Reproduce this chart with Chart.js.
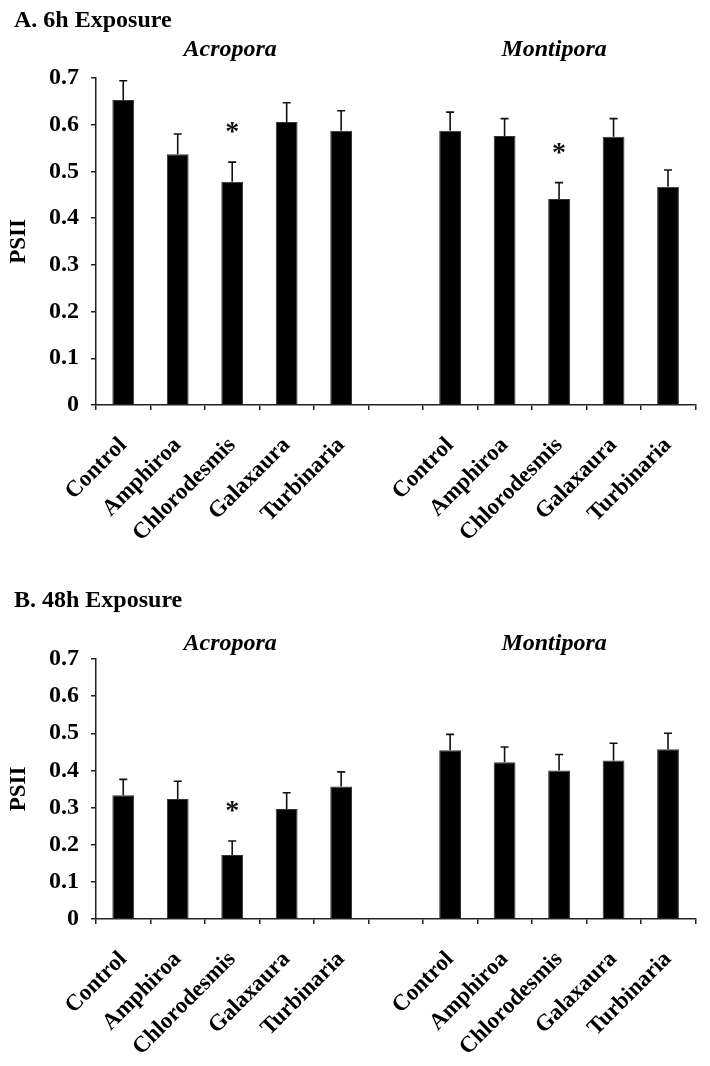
<!DOCTYPE html>
<html>
<head>
<meta charset="utf-8">
<script src="https://cdn.jsdelivr.net/npm/chart.js@4.4.0/dist/chart.umd.min.js"></script>
<style>
  body{margin:0;background:#fff;width:710px;height:1066px;overflow:hidden;}
  .panel{position:absolute;left:0;width:710px;}
</style>
</head>
<body>
<div class="panel" style="top:0;height:565px"><canvas id="graficaA"></canvas></div>
<div class="panel" style="top:580px;height:486px"><canvas id="graficaB"></canvas></div>
<script>
// categorias (hueco vacio entre los dos corales)
const categorias = ["Control","Amphiroa","Chlorodesmis","Galaxaura","Turbinaria","","Control","Amphiroa","Chlorodesmis","Galaxaura","Turbinaria"];
const grupos = ["Acropora","Montipora"];
const ticksY = [0,0.1,0.2,0.3,0.4,0.5,0.6,0.7];

// A. 6h
const psii6h   = [0.653,0.537,0.478,0.606,0.587,null,0.587,0.576,0.441,0.574,0.467];
const error6h  = [0.041,0.043,0.042,0.041,0.043,null,0.040,0.037,0.035,0.039,0.036];
const signif6h = [false,false,true,false,false,false,false,false,true,false,false];

// B. 48h
const psii48h   = [0.333,0.323,0.172,0.296,0.357,null,0.454,0.422,0.400,0.427,0.457];
const error48h  = [0.043,0.048,0.038,0.044,0.039,null,0.043,0.041,0.043,0.046,0.043];
const signif48h = [false,false,true,false,false,false,false,false,false,false,false];

const fuente = "'Liberation Serif', 'Times New Roman', serif";

function crearGrafica(id, valores, errores, signif, titulo, alto, altoEjeX, tituloY, gruposY){
    const ctx = document.getElementById(id).getContext("2d");

    // barras de error, asteriscos y textos
    const extras = {
        id: "extras",
        afterDatasetsDraw(chart){
            const c = chart.ctx;
            const meta = chart.getDatasetMeta(0);
            const y = chart.scales.y;
            c.save();
            c.strokeStyle = "#111";
            c.lineWidth = 1.6;
            valores.forEach((v, i) => {
                if(v === null) return;
                const x = meta.data[i].x;
                const yBar = y.getPixelForValue(v);
                const yErr = y.getPixelForValue(v + errores[i]);
                c.beginPath();
                c.moveTo(x, yBar);
                c.lineTo(x, yErr);
                c.moveTo(x - 4, yErr);
                c.lineTo(x + 4, yErr);
                c.stroke();
                if(signif[i]){
                    c.fillStyle = "#111";
                    c.font = "bold 28px " + fuente;
                    c.textAlign = "center";
                    c.textBaseline = "alphabetic";
                    c.fillText("*", x, yErr - 22);
                }
            });
            // nombres de los corales
            c.fillStyle = "#000";
            c.font = "italic bold 24px " + fuente;
            c.textAlign = "center";
            c.textBaseline = "middle";
            c.fillText(grupos[0], (meta.data[0].x + meta.data[4].x) / 2 - 2, gruposY);
            c.fillText(grupos[1], (meta.data[6].x + meta.data[10].x) / 2 - 5, gruposY);
            // titulo del panel
            c.font = "bold 24px " + fuente;
            c.textAlign = "left";
            c.fillText(titulo, 14, tituloY);
            c.restore();
        }
    };

    return new Chart(ctx, {
        type: "bar",
        data: {
            labels: categorias,
            datasets: [{
                label: "PSII",
                data: valores,
                backgroundColor: "#000",
                borderColor: "#333",
                borderWidth: 1,
                categoryPercentage: 1,
                barPercentage: 0.4
            }]
        },
        options: {
            responsive: true,
            maintainAspectRatio: false,
            animation: false,
            layout: { padding: { top: alto, right: 10, bottom: 0, left: 0 } },
            plugins: { legend: { display: false }, tooltip: { enabled: false } },
            scales: {
                x: {
                    afterFit: (s) => { s.height = altoEjeX; },
                    grid: { offset: true, drawOnChartArea: false, drawTicks: true, tickLength: 5, color: "#222", lineWidth: 1.5 },
                    border: { display: true, color: "#222", width: 1.5 },
                    ticks: {
                        autoSkip: false,
                        maxRotation: 45,
                        minRotation: 45,
                        padding: 22,
                        color: "#000",
                        font: { family: fuente, size: 23, weight: "bold" }
                    }
                },
                y: {
                    min: 0,
                    max: ticksY[ticksY.length - 1],
                    afterFit: (s) => { s.width = 96; },
                    afterBuildTicks: (s) => { s.ticks = ticksY.map(v => ({ value: v })); },
                    grid: { drawOnChartArea: false, drawTicks: true, tickLength: 5, color: "#222", lineWidth: 1.5 },
                    border: { display: true, color: "#222", width: 1.5 },
                    title: {
                        display: true,
                        text: "PSII",
                        color: "#000",
                        font: { family: fuente, size: 23, weight: "bold" },
                        padding: { top: 5, bottom: 0 }
                    },
                    ticks: {
                        padding: 12,
                        color: "#000",
                        font: { family: fuente, size: 24, weight: "bold" },
                        callback: (v) => v === 0 ? "0" : Number(v).toFixed(1)
                    }
                }
            }
        },
        plugins: [extras]
    });
}

crearGrafica("graficaA", psii6h, error6h, signif6h, "A. 6h Exposure", 78, 160, 21, 50);
crearGrafica("graficaB", psii48h, error48h, signif48h, "B. 48h Exposure", 79, 147, 21, 64);
</script>
</body>
</html>
